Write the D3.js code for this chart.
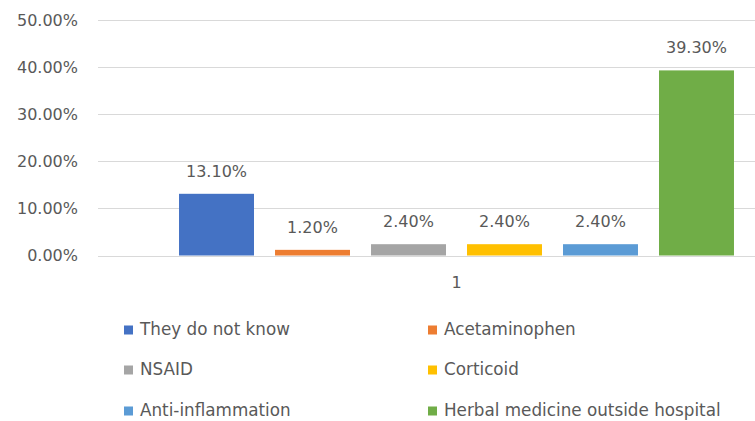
<!DOCTYPE html>
<html>
<head>
<meta charset="utf-8">
<script src="https://cdn.jsdelivr.net/npm/d3@7"></script>
<style>
  html, body { margin: 0; padding: 0; background: #fff; }
  svg { display: block; }
  text { font-family: "DejaVu Sans", sans-serif; fill: #595959; }
</style>
</head>
<body>
<svg id="chart" width="755" height="421"></svg>
<script>
// Share of respondents by treatment type (one category group, six series)
const categories = ["1"];
const seriesNames = [
  "They do not know",
  "Acetaminophen",
  "NSAID",
  "Corticoid",
  "Anti-inflammation",
  "Herbal medicine outside hospital"
];
const seriesValues = [13.1, 1.2, 2.4, 2.4, 2.4, 39.3];
const seriesColors = ["#4472C4", "#ED7D31", "#A5A5A5", "#FFC000", "#5B9BD5", "#70AD47"];
const yTicks = [0, 10, 20, 30, 40, 50];

const svg = d3.select("#chart");
const fontSize = 16;

const plot = { left: 98, right: 815, top: 20, bottom: 255.5 };

const y = d3.scaleLinear().domain([0, 50]).range([plot.bottom, plot.top]);
const x0 = d3.scaleBand().domain(categories).range([plot.left, plot.right])
  .paddingInner(0).paddingOuter(0.146);
const x1 = d3.scaleBand().domain(seriesNames).range([0, x0.bandwidth()])
  .paddingInner(0.219).paddingOuter(0);

const fmt = v => d3.format(".2f")(v) + "%";

// Horizontal gridlines
svg.append("g").selectAll("line").data(yTicks).join("line")
  .attr("x1", plot.left).attr("x2", plot.right)
  .attr("y1", d => Math.round(y(d)) + 0.5).attr("y2", d => Math.round(y(d)) + 0.5)
  .attr("stroke", "#D9D9D9").attr("stroke-width", 1);

// Y axis labels
const yAxis = d3.axisLeft(y).tickValues(yTicks).tickFormat(fmt).tickSize(0).tickPadding(0);
const gy = svg.append("g").attr("transform", `translate(${plot.left - 20},0)`).call(yAxis);
gy.select(".domain").remove();
gy.selectAll("text").attr("font-size", fontSize).attr("fill", "#595959")
  .attr("font-family", "DejaVu Sans, sans-serif");

// X axis category label
const xAxis = d3.axisBottom(x0).tickSize(0).tickPadding(0);
const gx = svg.append("g").attr("transform", `translate(0,${plot.bottom + 21})`).call(xAxis);
gx.select(".domain").remove();
gx.selectAll("text").attr("font-size", fontSize).attr("fill", "#595959")
  .attr("font-family", "DejaVu Sans, sans-serif");

// Bars
const rows = seriesNames.map((s, i) => ({ cat: categories[0], name: s, value: seriesValues[i], color: seriesColors[i] }));
const g = svg.append("g");
g.selectAll("rect").data(rows).join("rect")
  .attr("x", d => x0(d.cat) + x1(d.name))
  .attr("y", d => y(d.value))
  .attr("width", x1.bandwidth())
  .attr("height", d => y(0) - y(d.value))
  .attr("fill", d => d.color);

// Value labels
g.selectAll("text.val").data(rows).join("text")
  .attr("class", "val")
  .attr("x", d => x0(d.cat) + x1(d.name) + x1.bandwidth() / 2)
  .attr("y", d => y(d.value) - 17)
  .attr("text-anchor", "middle")
  .attr("font-size", fontSize)
  .text(d => fmt(d.value));

// Legend: two columns, three rows
const legendCols = [124, 428];
const legendRows = [335, 375, 416];
const lg = svg.append("g").selectAll("g").data(rows).join("g")
  .attr("transform", (d, i) => `translate(${legendCols[i % 2]},${legendRows[Math.floor(i / 2)]})`);
lg.append("rect").attr("x", 0).attr("y", -9.5).attr("width", 9).attr("height", 9)
  .attr("fill", d => d.color);
lg.append("text").attr("x", 16).attr("y", 0).attr("font-size", 16.8).text(d => d.name);
</script>
</body>
</html>
